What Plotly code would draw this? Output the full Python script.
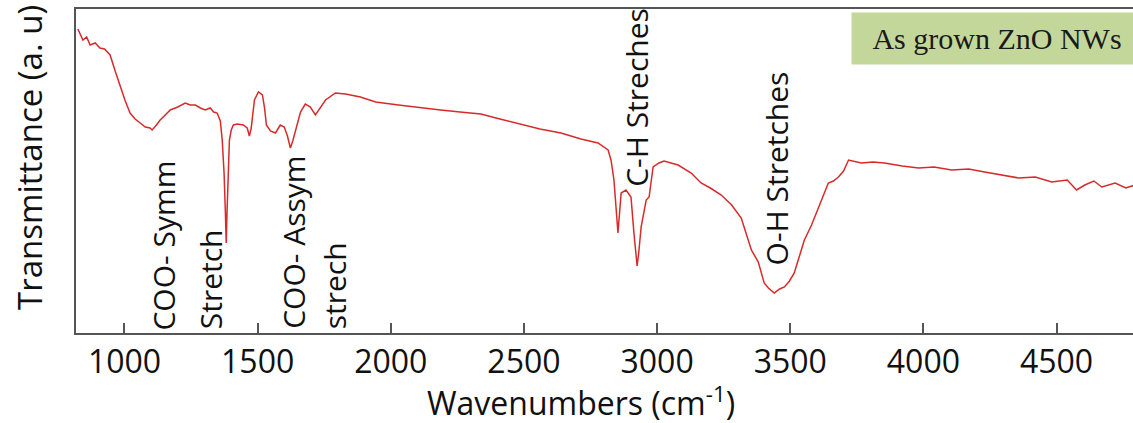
import plotly.graph_objects as go

# FTIR spectrum (wavenumber in cm^-1, transmittance in arbitrary units)
wavenumber = [825, 844, 858, 871, 890, 908, 925, 946, 965, 984, 1003, 1021, 1040, 1059, 1078, 1096, 1104,
              1120, 1134, 1153, 1172, 1200, 1228, 1247, 1266, 1285, 1303, 1322, 1335, 1348, 1360, 1367,
              1374, 1379, 1382, 1385, 1389, 1394, 1401, 1409, 1424, 1446, 1461, 1469, 1476, 1488, 1503,
              1518, 1526, 1533, 1548, 1567, 1585, 1600, 1612, 1623, 1632, 1642, 1661, 1679, 1698, 1717,
              1736, 1755, 1792, 1830, 1886, 1943, 2029, 2112, 2187, 2260, 2338, 2410, 2488, 2560, 2639,
              2714, 2778, 2816, 2827, 2838, 2846, 2853, 2859, 2865, 2883, 2902, 2913, 2920, 2925, 2931,
              2940, 2959, 2970, 2985, 3007, 3026, 3079, 3128, 3165, 3200, 3241, 3280, 3316, 3354, 3380,
              3402, 3418, 3440, 3460, 3478, 3497, 3515, 3553, 3580, 3606, 3643, 3662, 3681, 3700, 3719,
              3767, 3810, 3854, 3920, 3982, 4040, 4106, 4170, 4230, 4300, 4358, 4420, 4482, 4540, 4575,
              4606, 4640, 4670, 4720, 4760, 4794]
transmittance = [304, 293, 296, 288, 290, 285, 284, 278, 262, 246, 232, 220, 214, 210, 206, 205, 203,
                 208, 213, 218, 223, 226, 230, 228, 228, 225, 223, 225, 221, 220, 212, 193,
                 160, 120, 90, 120, 165, 193, 203, 208, 209, 208, 205, 197, 205, 233, 241,
                 238, 225, 208, 202, 200, 208, 206, 197, 185, 192, 203, 221, 229, 226, 218,
                 225, 233, 240, 239, 236, 231, 228, 225, 223, 221, 219, 214, 209, 204, 200,
                 194, 190, 183, 173, 153, 125, 100, 120, 140, 143, 136, 100, 78, 67, 80,
                 106, 133, 136, 166, 170, 172, 168, 160, 150, 145, 138, 128, 115, 83, 71,
                 50, 45, 40, 44, 46, 52, 60, 93, 108, 126, 150, 152, 156, 162, 173,
                 170, 171, 170, 167, 165, 166, 163, 164, 161, 158, 155, 156, 151, 153, 143,
                 148, 152, 146, 150, 145, 148]

tick_values = [1000, 1500, 2000, 2500, 3000, 3500, 4000, 4500]
tick_labels = ["1000", "1500", "2000", "2500", "3000", "3500", "4000", "4500"]

band_labels = ["COO- Symm", "Stretch", "COO- Assym", "strech", "C-H Streches", "O-H Stretches"]
band_x = [1143, 1322, 1632, 1788, 2920, 3448]
band_y = [87, 54, 91, 47, 236, 165]

sample_label = "As grown ZnO NWs"
x_title = "Wavenumbers (cm<sup>-1</sup>)"
y_title = "Transmittance (a. u)"

W, H = 1133, 423
ML, MT, MB, MR = 76, 9, 90, 0
x_range = [818, 4787]
y_range = [0, 324]

fig = go.Figure()
fig.add_trace(go.Scatter(x=wavenumber, y=transmittance, mode="lines",
                         line=dict(color="#d82a2a", width=1.5), showlegend=False,
                         hoverinfo="x+y"))

font_main = "Open Sans, sans-serif"
for txt, bx, by in zip(band_labels, band_x, band_y):
    fig.add_annotation(x=bx, y=by, xref="x", yref="y", text=txt, textangle=-90,
                       showarrow=False, xanchor="center", yanchor="middle",
                       font=dict(family=font_main, size=30, color="#111111"))

plot_w = W - ML - MR
plot_h = H - MT - MB

# sample label box
fig.add_annotation(x=(851 - ML) / plot_w, y=(333 - 12) / plot_h, xref="paper", yref="paper",
                   xanchor="left", yanchor="top", text=sample_label, showarrow=False,
                   width=290, height=51, bgcolor="#c4d79b", borderpad=0, align="center",
                   font=dict(family="Liberation Serif, Times New Roman, serif", size=30, color="#1a1a1a"))

# axis titles
fig.add_annotation(x=(581 - ML) / plot_w, y=(333 - 401) / plot_h, xref="paper", yref="paper",
                   xanchor="center", yanchor="middle", text=x_title, showarrow=False,
                   font=dict(family=font_main, size=32, color="#111111"))
fig.add_annotation(x=(29 - ML) / plot_w, y=(333 - 158) / plot_h, xref="paper", yref="paper",
                   xanchor="center", yanchor="middle", text=y_title, textangle=-90, showarrow=False,
                   font=dict(family=font_main, size=33, color="#111111"))

fig.update_layout(
    width=W, height=H,
    margin=dict(l=ML, r=MR, t=MT, b=MB, pad=0),
    paper_bgcolor="white", plot_bgcolor="white",
    xaxis=dict(range=x_range, tickmode="array", tickvals=tick_values, ticktext=tick_labels,
               ticks="inside", ticklen=10, tickwidth=2, tickcolor="#555555",
               showline=True, linecolor="#555555", linewidth=2, mirror=True,
               showgrid=False, zeroline=False,
               tickfont=dict(family=font_main, size=32, color="#111111")),
    yaxis=dict(range=y_range, showticklabels=False, ticks="",
               showline=True, linecolor="#555555", linewidth=2, mirror=False,
               showgrid=False, zeroline=False),
)

fig.write_html("out.html")
